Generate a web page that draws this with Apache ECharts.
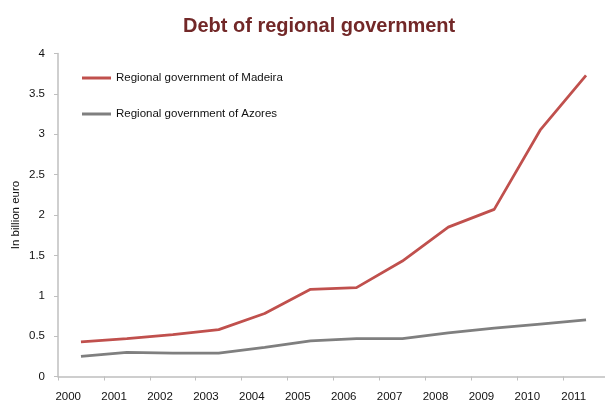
<!DOCTYPE html>
<html>
<head>
<meta charset="utf-8">
<script src="https://cdn.jsdelivr.net/npm/echarts@6/dist/echarts.min.js"></script>
<style>
  html, body { margin: 0; padding: 0; background: #ffffff; }
  #chart { width: 605px; height: 401px; }
</style>
</head>
<body>
<div id="chart"></div>
<script>
// Years on the category axis
const years = ['2000', '2001', '2002', '2003', '2004', '2005', '2006', '2007', '2008', '2009', '2010', '2011'];

// Outstanding debt, billion euro
const madeira = [0.43, 0.47, 0.52, 0.58, 0.78, 1.08, 1.10, 1.43, 1.85, 2.07, 3.05, 3.73];
const azores  = [0.25, 0.30, 0.29, 0.29, 0.36, 0.44, 0.47, 0.47, 0.54, 0.60, 0.65, 0.70];

const seriesNames = ['Regional government of Madeira', 'Regional government of Azores'];

const FONT = '"Liberation Sans", Arial, sans-serif';
const axisGray = '#bfbfbf';

const chart = echarts.init(document.getElementById('chart'), null, { renderer: 'canvas' });

chart.setOption({
  animation: false,
  backgroundColor: '#ffffff',
  title: {
    text: 'Debt of regional government',
    left: 178,
    top: 11,
    textStyle: {
      fontFamily: FONT,
      fontWeight: 'bold',
      fontSize: 20,
      color: '#722828'
    }
  },
  legend: {
    orient: 'vertical',
    left: 77,
    top: 66,
    itemWidth: 29,
    itemHeight: 3,
    itemGap: 22,
    icon: 'rect',
    textStyle: {
      fontFamily: FONT,
      fontSize: 11.5,
      color: '#111111',
      lineHeight: 14
    },
    data: seriesNames
  },
  grid: {
    left: 58,
    right: -4,
    top: 53.5,
    bottom: 24.5,
    containLabel: false,
    outerBoundsMode: 'none'
  },
  xAxis: {
    type: 'category',
    data: years,
    boundaryGap: true,
    axisLine: { lineStyle: { color: axisGray, width: 1.5 } },
    axisTick: { show: true, length: 4, lineStyle: { color: axisGray } },
    axisLabel: {
      fontFamily: FONT,
      fontSize: 11.5,
      color: '#111111',
      margin: 14,
      align: 'right'
    }
  },
  yAxis: {
    type: 'value',
    min: 0,
    max: 4,
    interval: 0.5,
    name: 'In billion euro',
    nameLocation: 'middle',
    nameGap: 36,
    nameMoveOverlap: false,
    nameRotate: 90,
    nameTextStyle: {
      fontFamily: FONT,
      fontSize: 11.5,
      color: '#111111'
    },
    axisLine: { show: true, lineStyle: { color: axisGray, width: 1.5 } },
    axisTick: { show: true, length: 4, lineStyle: { color: axisGray } },
    splitLine: { show: false },
    axisLabel: {
      fontFamily: FONT,
      fontSize: 11.5,
      color: '#111111',
      margin: 13
    }
  },
  series: [
    {
      name: seriesNames[0],
      type: 'line',
      data: madeira,
      symbol: 'none',
      color: '#c0504d',
      lineStyle: { color: '#c0504d', width: 2.75 }
    },
    {
      name: seriesNames[1],
      type: 'line',
      data: azores,
      symbol: 'none',
      color: '#7f7f7f',
      lineStyle: { color: '#7f7f7f', width: 2.75 }
    }
  ]
});
</script>
</body>
</html>
